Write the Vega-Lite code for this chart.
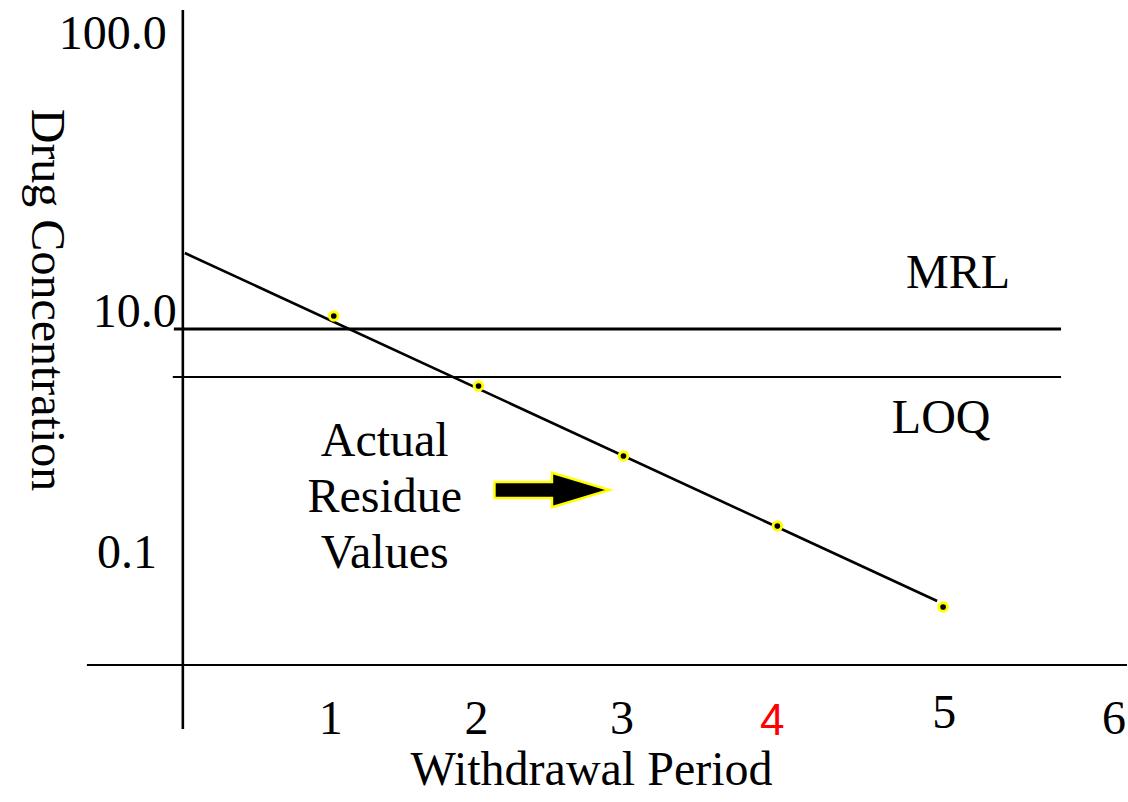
{
  "$schema": "https://vega.github.io/schema/vega-lite/v6.json",
  "width": 1128,
  "height": 802,
  "autosize": {"type": "fit", "contains": "padding"},
  "padding": 0,
  "background": "white",
  "config": {"view": {"stroke": null}},
  "datasets": {
    "segments": [
      {"name": "yaxis", "x": 0, "x2": 0, "y": 6.55, "y2": -0.64},
      {"name": "xaxis", "x": -0.64, "x2": 6.3, "y": 0, "y2": 0},
      {"name": "MRL", "x": -0.06, "x2": 5.86, "y": 3.36, "y2": 3.36},
      {"name": "LOQ", "x": -0.067, "x2": 5.86, "y": 2.88, "y2": 2.88},
      {"name": "fit", "x": 0.013, "x2": 5.033, "y": 4.12, "y2": 0.64}
    ],
    "points": [
      {"period": 1.007, "level": 3.49},
      {"period": 1.973, "level": 2.79},
      {"period": 2.94, "level": 2.09},
      {"period": 3.967, "level": 1.39},
      {"period": 5.073, "level": 0.58}
    ],
    "arrow": [
      {"period": 2.463, "level": 1.75}
    ],
    "labels": [
      {"group": "tick", "text": "1", "x": 0.987, "y": -0.69},
      {"group": "tick", "text": "2", "x": 1.96, "y": -0.69},
      {"group": "tick", "text": "3", "x": 2.93, "y": -0.69},
      {"group": "tick", "text": "4", "x": 3.933, "y": -0.70},
      {"group": "tick", "text": "5", "x": 5.08, "y": -0.63},
      {"group": "tick", "text": "6", "x": 6.213, "y": -0.69},
      {"group": "ytick", "text": "100.0", "x": -0.107, "y": 6.16},
      {"group": "ytick", "text": "10.0", "x": -0.04, "y": 3.38},
      {"group": "ytick", "text": "0.1", "x": -0.173, "y": 0.97},
      {"group": "annot", "text": "MRL", "x": 5.173, "y": 3.77},
      {"group": "annot", "text": "LOQ", "x": 5.06, "y": 2.32},
      {"group": "annot", "text": "Actual", "x": 1.347, "y": 2.09},
      {"group": "annot", "text": "Residue", "x": 1.347, "y": 1.53},
      {"group": "annot", "text": "Values", "x": 1.347, "y": 0.97},
      {"group": "xtitle", "text": "Withdrawal Period", "x": 2.727, "y": -1.2},
      {"group": "ytitle", "text": "Drug Concentration", "x": -1.007, "y": 3.65}
    ]
  },
  "layer": [
    {
      "data": {"name": "segments"},
      "transform": [{"filter": "datum.name === 'yaxis' || datum.name === 'fit'"}],
      "mark": {"type": "rule", "color": "black", "strokeCap": "butt", "strokeWidth": 2.6},
      "encoding": {
        "x": {"field": "x", "type": "quantitative", "scale": {"domain": [-1.22, 6.3], "nice": false, "zero": false}, "axis": null},
        "x2": {"field": "x2"},
        "y": {"field": "y", "type": "quantitative", "scale": {"domain": [-1.37, 6.65], "nice": false, "zero": false}, "axis": null},
        "y2": {"field": "y2"}
      }
    },
    {
      "data": {"name": "segments"},
      "transform": [{"filter": "datum.name === 'xaxis' || datum.name === 'LOQ'"}],
      "mark": {"type": "rule", "color": "black", "strokeCap": "butt", "strokeWidth": 2},
      "encoding": {
        "x": {"field": "x", "type": "quantitative", "scale": {"domain": [-1.22, 6.3], "nice": false, "zero": false}, "axis": null},
        "x2": {"field": "x2"},
        "y": {"field": "y", "type": "quantitative", "scale": {"domain": [-1.37, 6.65], "nice": false, "zero": false}, "axis": null},
        "y2": {"field": "y2"}
      }
    },
    {
      "data": {"name": "segments"},
      "transform": [{"filter": "datum.name === 'MRL'"}],
      "mark": {"type": "rule", "color": "black", "strokeCap": "butt", "strokeWidth": 3},
      "encoding": {
        "x": {"field": "x", "type": "quantitative", "scale": {"domain": [-1.22, 6.3], "nice": false, "zero": false}, "axis": null},
        "x2": {"field": "x2"},
        "y": {"field": "y", "type": "quantitative", "scale": {"domain": [-1.37, 6.65], "nice": false, "zero": false}, "axis": null},
        "y2": {"field": "y2"}
      }
    },
    {
      "data": {"name": "points"},
      "mark": {"type": "point", "shape": "circle", "filled": true, "fill": "black", "stroke": "#ffff00", "strokeWidth": 3, "size": 75, "opacity": 1, "strokeOpacity": 1, "fillOpacity": 1},
      "encoding": {
        "x": {"field": "period", "type": "quantitative", "scale": {"domain": [-1.22, 6.3], "nice": false, "zero": false}, "axis": null},
        "y": {"field": "level", "type": "quantitative", "scale": {"domain": [-1.37, 6.65], "nice": false, "zero": false}, "axis": null}
      }
    },
    {
      "data": {"name": "arrow"},
      "mark": {"type": "point", "shape": "M-1,-0.14L0,-0.14L0,-0.3L1,0L0,0.3L0,0.14L-1,0.14Z", "filled": true, "fill": "black", "stroke": "#ffff00", "strokeWidth": 2.5, "size": 13225, "opacity": 1, "strokeOpacity": 1, "fillOpacity": 1},
      "encoding": {
        "x": {"field": "period", "type": "quantitative", "scale": {"domain": [-1.22, 6.3], "nice": false, "zero": false}, "axis": null},
        "y": {"field": "level", "type": "quantitative", "scale": {"domain": [-1.37, 6.65], "nice": false, "zero": false}, "axis": null}
      }
    },
    {
      "data": {"name": "labels"},
      "transform": [{"filter": "(datum.group === 'tick' && datum.text !== '4') || datum.group === 'annot' || datum.group === 'xtitle'"}],
      "mark": {"type": "text", "font": "Liberation Serif", "fontSize": 48, "align": "center", "baseline": "alphabetic", "color": "black"},
      "encoding": {
        "x": {"field": "x", "type": "quantitative", "scale": {"domain": [-1.22, 6.3], "nice": false, "zero": false}, "axis": null},
        "y": {"field": "y", "type": "quantitative", "scale": {"domain": [-1.37, 6.65], "nice": false, "zero": false}, "axis": null},
        "text": {"field": "text", "type": "nominal"}
      }
    },
    {
      "data": {"name": "labels"},
      "transform": [{"filter": "datum.group === 'tick' && datum.text === '4'"}],
      "mark": {"type": "text", "font": "Liberation Sans", "fontSize": 44, "align": "center", "baseline": "alphabetic", "color": "#ff0000"},
      "encoding": {
        "x": {"field": "x", "type": "quantitative", "scale": {"domain": [-1.22, 6.3], "nice": false, "zero": false}, "axis": null},
        "y": {"field": "y", "type": "quantitative", "scale": {"domain": [-1.37, 6.65], "nice": false, "zero": false}, "axis": null},
        "text": {"field": "text", "type": "nominal"}
      }
    },
    {
      "data": {"name": "labels"},
      "transform": [{"filter": "datum.group === 'ytick'"}],
      "mark": {"type": "text", "font": "Liberation Serif", "fontSize": 48, "align": "right", "baseline": "alphabetic", "color": "black"},
      "encoding": {
        "x": {"field": "x", "type": "quantitative", "scale": {"domain": [-1.22, 6.3], "nice": false, "zero": false}, "axis": null},
        "y": {"field": "y", "type": "quantitative", "scale": {"domain": [-1.37, 6.65], "nice": false, "zero": false}, "axis": null},
        "text": {"field": "text", "type": "nominal"}
      }
    },
    {
      "data": {"name": "labels"},
      "transform": [{"filter": "datum.group === 'ytitle'"}],
      "mark": {"type": "text", "font": "Liberation Serif", "fontSize": 48, "align": "center", "baseline": "alphabetic", "angle": 90, "color": "black"},
      "encoding": {
        "x": {"field": "x", "type": "quantitative", "scale": {"domain": [-1.22, 6.3], "nice": false, "zero": false}, "axis": null},
        "y": {"field": "y", "type": "quantitative", "scale": {"domain": [-1.37, 6.65], "nice": false, "zero": false}, "axis": null},
        "text": {"field": "text", "type": "nominal"}
      }
    }
  ]
}
